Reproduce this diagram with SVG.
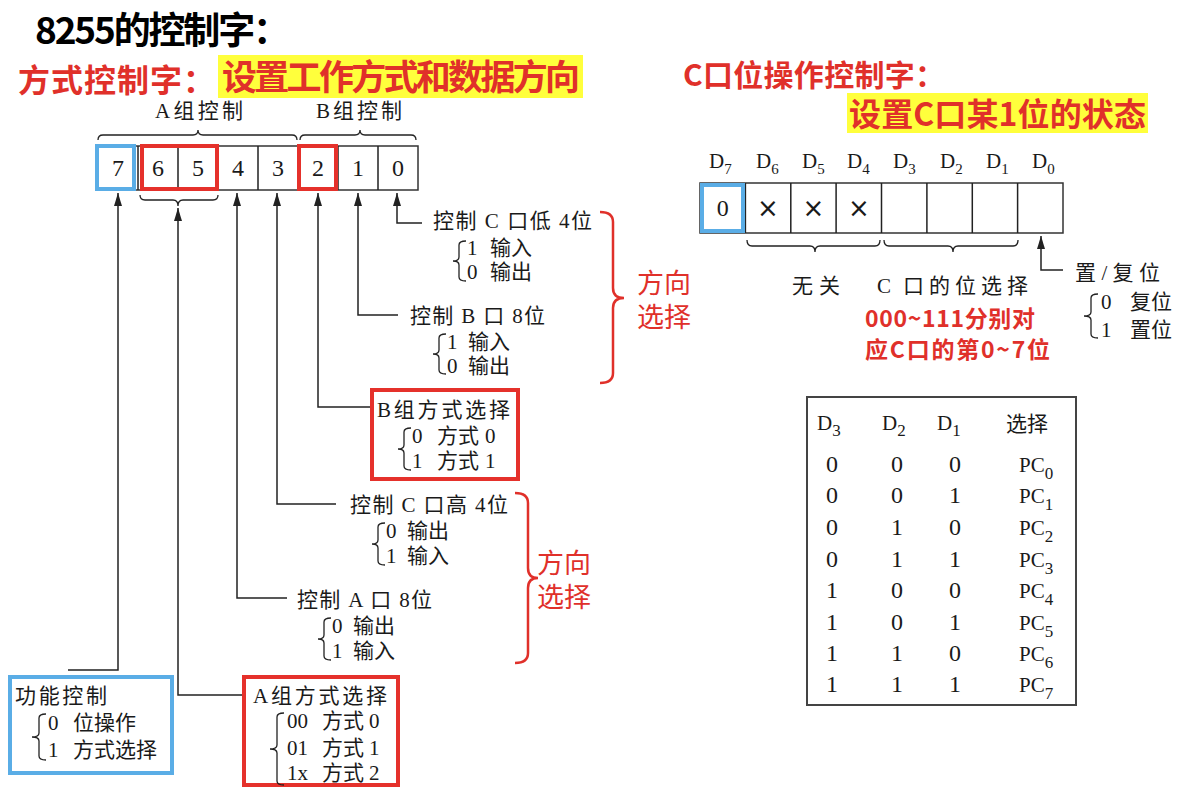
<svg xmlns="http://www.w3.org/2000/svg" width="1179" height="789" viewBox="0 0 1179 789">
<defs>
<marker id="ah" markerWidth="14" markerHeight="8" refX="13" refY="4" orient="auto" markerUnits="userSpaceOnUse"><path d="M0,0 L13,4 L0,8 z" fill="#222"/></marker>
<style>
.tb{font-family:"Liberation Serif","Noto Sans CJK SC",serif;fill:#1a1a1a;font-size:21px}
.dg{font-family:"Liberation Serif",serif;fill:#1a1a1a;font-size:24px;text-anchor:middle}
.ti{font-family:"Noto Sans CJK SC","Noto Sans",sans-serif;font-weight:bold}
.red{fill:#e0302a}
.rt{font-family:"Liberation Sans","Noto Sans CJK SC",sans-serif;fill:#e0302a;font-size:27px}
.cell{fill:#fff;stroke:#333;stroke-width:1.5}
.ln{fill:none;stroke:#222;stroke-width:1.5}
.br{fill:none;stroke:#222;stroke-width:1.3}
.rbr{fill:none;stroke:#e0302a;stroke-width:2.5}
.rbox{fill:none;stroke:#e5312b;stroke-width:4}
.bbox{fill:none;stroke:#5aade6;stroke-width:4}
.hl{fill:#ffff3c}
.sub{font-size:15px}
.x{font-family:"DejaVu Sans",sans-serif;fill:#1a1a1a;font-size:26px;text-anchor:middle}
</style>
</defs>
<rect width="1179" height="789" fill="#fff"/>

<g id="titles">
<text class="ti" x="35" y="44" font-size="37" fill="#000" textLength="255" lengthAdjust="spacing">8255的控制字：</text>
<text class="ti red" x="18" y="92" font-size="32" textLength="197" lengthAdjust="spacing">方式控制字：</text>
<rect class="hl" x="218" y="55" width="365" height="43"/>
<text class="ti red" x="222" y="90" font-size="35" textLength="358" lengthAdjust="spacing">设置工作方式和数据方向</text>
<text class="ti red" x="683" y="86" font-size="30" textLength="262" lengthAdjust="spacing">C口位操作控制字：</text>
<rect class="hl" x="847" y="93" width="301" height="40"/>
<text class="ti red" x="849" y="126" font-size="32" textLength="297" lengthAdjust="spacing">设置C口某1位的状态</text>
</g>

<g id="mode-register">
<rect class="cell" x="98" y="146" width="320" height="44"/>
<path class="ln" d="M138,146V190M178,146V190M218,146V190M258,146V190M298,146V190M338,146V190M378,146V190"/>
<text class="dg" x="118" y="176">7</text>
<text class="dg" x="158" y="176">6</text>
<text class="dg" x="198" y="176">5</text>
<text class="dg" x="238" y="176">4</text>
<text class="dg" x="278" y="176">3</text>
<text class="dg" x="318" y="176">2</text>
<text class="dg" x="358" y="176">1</text>
<text class="dg" x="398" y="176">0</text>
<rect class="bbox" x="97" y="146" width="37" height="43"/>
<rect class="rbox" x="142" y="146" width="75" height="43"/>
<rect class="rbox" x="299" y="146" width="37" height="43"/>
<path class="br" d="M98,140 Q98,135 103,135 H193 Q198,135 198,130 Q198,135 203,135 H292 Q297,135 297,140"/>
<path class="br" d="M300,140 Q300,135 305,135 H355 Q360,135 360,130 Q360,135 365,135 H411 Q416,135 416,140"/>
<path class="br" d="M140,195 Q140,200 145,200 H173 Q178,200 178,206 Q178,200 183,200 H213 Q218,200 218,195"/>
<text class="tb" x="155" y="118" textLength="88" lengthAdjust="spacing">A组控制</text>
<text class="tb" x="316" y="118" textLength="86" lengthAdjust="spacing">B组控制</text>
</g>

<g id="connectors">
<path class="ln" marker-end="url(#ah)" d="M68,670 H118 V193"/>
<path class="ln" marker-end="url(#ah)" d="M242,695 H178 V208"/>
<path class="ln" marker-end="url(#ah)" d="M287,598 H237 V193"/>
<path class="ln" marker-end="url(#ah)" d="M336,504 H277 V193"/>
<path class="ln" marker-end="url(#ah)" d="M370,407 H318 V193"/>
<path class="ln" marker-end="url(#ah)" d="M398,315 H358 V193"/>
<path class="ln" marker-end="url(#ah)" d="M422,223 H397 V193"/>
<path class="ln" marker-end="url(#ah)" d="M1063,270 H1041 V236"/>
</g>

<g id="c-low">
<text class="tb" x="433" y="228" textLength="159" lengthAdjust="spacing">控制 C 口低 4位</text>
<path class="br" d="M466,241 Q459,241 459,245 V257 Q459,261 453,261 Q459,261 459,265 V277 Q459,281 466,281"/>
<text class="tb" x="467" y="255">1<tspan x="490">输入</tspan></text>
<text class="tb" x="467" y="279">0<tspan x="490">输出</tspan></text>
</g>

<g id="b-port">
<text class="tb" x="410" y="323" textLength="135" lengthAdjust="spacing">控制 B 口 8位</text>
<path class="br" d="M446,334 Q439,334 439,338 V350 Q439,354 433,354 Q439,354 439,358 V370 Q439,374 446,374"/>
<text class="tb" x="447" y="349">1<tspan x="468">输入</tspan></text>
<text class="tb" x="447" y="373">0<tspan x="468">输出</tspan></text>
</g>

<g id="dir-select-1">
<path class="rbr" d="M600,212 Q613,212 613,222 V288 Q613,298 624,298 Q613,298 613,308 V373 Q613,383 600,383"/>
<text class="rt" x="637" y="293">方向</text>
<text class="rt" x="637" y="327">选择</text>
</g>

<g id="b-mode">
<rect class="rbox" x="372" y="390" width="146" height="89"/>
<text class="tb" x="377" y="417" textLength="133" lengthAdjust="spacing">B组方式选择</text>
<path class="br" d="M411,428 Q404,428 404,432 V445 Q404,449 398,449 Q404,449 404,453 V466 Q404,470 411,470"/>
<text class="tb" x="412" y="443">0<tspan x="437">方式</tspan><tspan x="485">0</tspan></text>
<text class="tb" x="412" y="468">1<tspan x="437">方式</tspan><tspan x="485">1</tspan></text>
</g>

<g id="c-high">
<text class="tb" x="350" y="512" textLength="158" lengthAdjust="spacing">控制 C 口高 4位</text>
<path class="br" d="M385,523 Q378,523 378,527 V540 Q378,544 372,544 Q378,544 378,548 V561 Q378,565 385,565"/>
<text class="tb" x="386" y="538">0<tspan x="407">输出</tspan></text>
<text class="tb" x="386" y="563">1<tspan x="407">输入</tspan></text>
</g>

<g id="a-port">
<text class="tb" x="297" y="607" textLength="135" lengthAdjust="spacing">控制 A 口 8位</text>
<path class="br" d="M331,618 Q324,618 324,622 V635 Q324,639 318,639 Q324,639 324,643 V656 Q324,660 331,660"/>
<text class="tb" x="332" y="633">0<tspan x="353">输出</tspan></text>
<text class="tb" x="332" y="658">1<tspan x="353">输入</tspan></text>
</g>

<g id="dir-select-2">
<path class="rbr" d="M515,493 Q528,493 528,503 V568 Q528,578 538,578 Q528,578 528,588 V653 Q528,663 515,663"/>
<text class="rt" x="537" y="573">方向</text>
<text class="rt" x="537" y="607">选择</text>
</g>

<g id="func-control">
<rect class="bbox" x="10" y="677" width="162" height="96"/>
<text class="tb" x="15" y="703" textLength="92" lengthAdjust="spacing">功能控制</text>
<path class="br" d="M46,714 Q39,714 39,718 V733 Q39,737 32,737 Q39,737 39,741 V756 Q39,760 46,760"/>
<text class="tb" x="48" y="730">0<tspan x="73">位操作</tspan></text>
<text class="tb" x="48" y="757">1<tspan x="73">方式选择</tspan></text>
</g>

<g id="a-mode">
<rect class="rbox" x="244" y="677" width="154" height="108"/>
<text class="tb" x="253" y="703" textLength="134" lengthAdjust="spacing">A组方式选择</text>
<path class="br" d="M284,713 Q277,713 277,717 V745 Q277,749 270,749 Q277,749 277,753 V781 Q277,785 284,785"/>
<text class="tb" x="287" y="728">00<tspan x="322">方式</tspan><tspan x="369">0</tspan></text>
<text class="tb" x="287" y="755">01<tspan x="322">方式</tspan><tspan x="369">1</tspan></text>
<text class="tb" x="287" y="780">1x<tspan x="322">方式</tspan><tspan x="369">2</tspan></text>
</g>

<g id="c-register">
<text class="tb" font-size="25" x="709" y="168">D<tspan class="sub" dy="6">7</tspan></text>
<text class="tb" font-size="25" x="756" y="168">D<tspan class="sub" dy="6">6</tspan></text>
<text class="tb" font-size="25" x="802" y="168">D<tspan class="sub" dy="6">5</tspan></text>
<text class="tb" font-size="25" x="847" y="168">D<tspan class="sub" dy="6">4</tspan></text>
<text class="tb" font-size="25" x="893" y="168">D<tspan class="sub" dy="6">3</tspan></text>
<text class="tb" font-size="25" x="940" y="168">D<tspan class="sub" dy="6">2</tspan></text>
<text class="tb" font-size="25" x="986" y="168">D<tspan class="sub" dy="6">1</tspan></text>
<text class="tb" font-size="25" x="1032" y="168">D<tspan class="sub" dy="6">0</tspan></text>
<rect class="cell" x="700" y="183" width="363" height="50"/>
<path class="ln" d="M745.4,183V233M790.8,183V233M836.1,183V233M881.5,183V233M926.9,183V233M972.3,183V233M1017.6,183V233"/>
<text class="dg" font-size="25" x="722.7" y="216">0</text>
<text class="x" x="768" y="217">×</text>
<text class="x" x="813.5" y="217">×</text>
<text class="x" x="859" y="217">×</text>
<rect class="bbox" x="702" y="185" width="41" height="46"/>
<path class="br" d="M747,240 Q747,246 752,246 H810 Q815,246 815,252 Q815,246 820,246 H875 Q880,246 880,240"/>
<path class="br" d="M884,240 Q884,246 889,246 H948 Q953,246 953,252 Q953,246 958,246 H1013 Q1018,246 1018,240"/>
<text class="tb" font-size="23" x="792" y="293" textLength="48" lengthAdjust="spacing">无关</text>
<text class="tb" font-size="23" x="877" y="293">C<tspan x="903" textLength="125" lengthAdjust="spacing">口的位选择</tspan></text>
<text class="ti red" font-size="23" x="865" y="327" textLength="170" lengthAdjust="spacing">000~111分别对</text>
<text class="ti red" font-size="23" x="865" y="358" textLength="185" lengthAdjust="spacing">应C口的第0~7位</text>
</g>

<g id="set-reset">
<text class="tb" font-size="23" x="1075" y="280" textLength="85" lengthAdjust="spacing">置/复位</text>
<path class="br" d="M1098,294 Q1091,294 1091,298 V312 Q1091,316 1084,316 Q1091,316 1091,320 V334 Q1091,338 1098,338"/>
<text class="tb" font-size="23" x="1101" y="309">0<tspan x="1130">复位</tspan></text>
<text class="tb" font-size="23" x="1101" y="337">1<tspan x="1130">置位</tspan></text>
</g>

<g id="select-table">
<rect x="807" y="397" width="269" height="308" fill="none" stroke="#444" stroke-width="2"/>
<text class="tb" font-size="26" x="817" y="430">D<tspan font-size="17" dy="6">3</tspan></text>
<text class="tb" font-size="26" x="882" y="430">D<tspan font-size="17" dy="6">2</tspan></text>
<text class="tb" font-size="26" x="937" y="430">D<tspan font-size="17" dy="6">1</tspan></text>
<text class="tb" font-size="26" x="1006" y="431">选择</text>
<g class="dg" font-size="26">
<text x="832" y="472">0</text><text x="897" y="472">0</text><text x="955" y="472">0</text>
<text x="832" y="503">0</text><text x="897" y="503">0</text><text x="955" y="503">1</text>
<text x="832" y="535">0</text><text x="897" y="535">1</text><text x="955" y="535">0</text>
<text x="832" y="567">0</text><text x="897" y="567">1</text><text x="955" y="567">1</text>
<text x="832" y="598">1</text><text x="897" y="598">0</text><text x="955" y="598">0</text>
<text x="832" y="630">1</text><text x="897" y="630">0</text><text x="955" y="630">1</text>
<text x="832" y="661">1</text><text x="897" y="661">1</text><text x="955" y="661">0</text>
<text x="832" y="692">1</text><text x="897" y="692">1</text><text x="955" y="692">1</text>
</g>
<text class="tb" font-size="26" x="1019" y="472">PC<tspan font-size="17" dy="7">0</tspan></text>
<text class="tb" font-size="26" x="1019" y="503">PC<tspan font-size="17" dy="7">1</tspan></text>
<text class="tb" font-size="26" x="1019" y="535">PC<tspan font-size="17" dy="7">2</tspan></text>
<text class="tb" font-size="26" x="1019" y="567">PC<tspan font-size="17" dy="7">3</tspan></text>
<text class="tb" font-size="26" x="1019" y="598">PC<tspan font-size="17" dy="7">4</tspan></text>
<text class="tb" font-size="26" x="1019" y="630">PC<tspan font-size="17" dy="7">5</tspan></text>
<text class="tb" font-size="26" x="1019" y="661">PC<tspan font-size="17" dy="7">6</tspan></text>
<text class="tb" font-size="26" x="1019" y="692">PC<tspan font-size="17" dy="7">7</tspan></text>
</g>
</svg>
